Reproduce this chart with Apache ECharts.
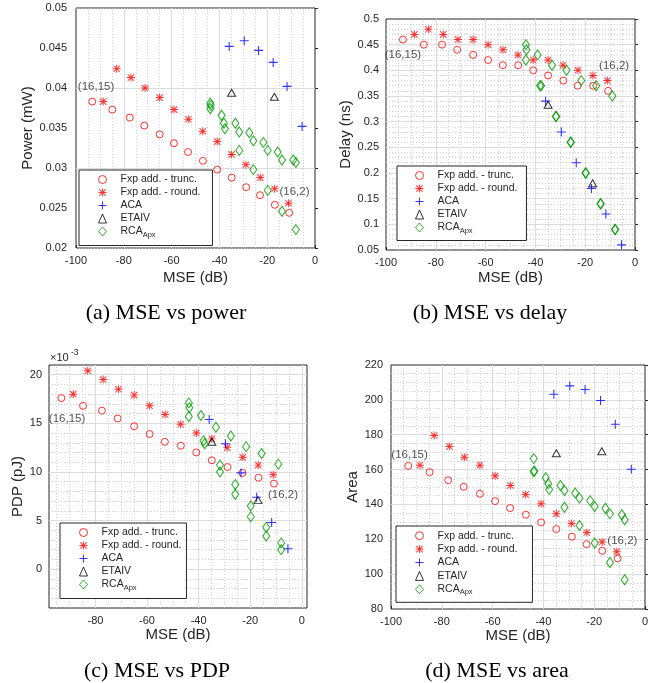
<!DOCTYPE html>
<html><head><meta charset="utf-8">
<script src="https://cdn.jsdelivr.net/npm/echarts@6/dist/echarts.min.js"></script>
<style>html,body{margin:0;padding:0;background:#fff}#c{width:665px;height:683px}</style>
</head><body><div id="c"></div>
<script>
// ---------- data ----------
const seriesNames = ['Fxp add. - trunc.', 'Fxp add. - round.', 'ACA', 'ETAIV', 'RCA_Apx'];

const truncMSE = [-93.2, -84.8, -77.5, -71.4, -65.0, -59.0, -53.1, -46.9, -40.9, -34.9, -28.8, -23.0, -16.8, -10.8];
const roundMSE = [-88.6, -83.0, -77.0, -71.1, -65.0, -59.0, -53.0, -47.0, -40.9, -34.9, -28.9, -22.9, -16.9, -11.1];
const acaMSE = [-35.9, -29.6, -23.6, -17.5, -11.7, -5.4];
const etaivMSE = [-34.9, -17.0];
const rcaMSE = [-43.8, -43.6, -43.8, -39.1, -38.1, -37.7, -33.3, -31.7, -31.7, -27.5, -25.8, -25.8, -21.6, -19.8, -19.8, -15.6, -13.8, -13.8, -9.1, -8.0, -8.0];

const truncPower = [0.0383, 0.0373, 0.0363, 0.0353, 0.0342, 0.0331, 0.0320, 0.0309, 0.0298, 0.0288, 0.0276, 0.0266, 0.0254, 0.0244];
const roundPower = [0.0383, 0.0424, 0.0413, 0.0400, 0.0388, 0.0373, 0.0361, 0.0346, 0.0333, 0.0317, 0.0304, 0.0288, 0.0274, 0.0256];
const acaPower = [0.0452, 0.0459, 0.0447, 0.0432, 0.0402, 0.0352];
const etaivPower = [0.0394, 0.0389];
const rcaPower = [0.0381, 0.0378, 0.0374, 0.0366, 0.0356, 0.0349, 0.0356, 0.0345, 0.0322, 0.0344, 0.0334, 0.0298, 0.0332, 0.0322, 0.0272, 0.0320, 0.0310, 0.0246, 0.0310, 0.0307, 0.0223];

const truncDelay = [0.46, 0.45, 0.45, 0.44, 0.43, 0.42, 0.41, 0.41, 0.40, 0.39, 0.38, 0.37, 0.37, 0.36];
const roundDelay = [0.47, 0.48, 0.47, 0.46, 0.46, 0.45, 0.44, 0.43, 0.42, 0.42, 0.41, 0.40, 0.39, 0.38];
const acaDelay = [0.34, 0.28, 0.22, 0.17, 0.12, 0.06];
const etaivDelay = [0.333, 0.18];
const rcaDelay = [0.45, 0.44, 0.42, 0.43, 0.37, 0.37, 0.41, 0.31, 0.31, 0.40, 0.26, 0.26, 0.38, 0.20, 0.20, 0.37, 0.14, 0.14, 0.35, 0.09, 0.09];

// PDP in units of 1e-3 pJ
const truncPDP = [17.6, 16.8, 16.3, 15.5, 14.7, 13.9, 13.1, 12.7, 12.0, 11.2, 10.5, 9.9, 9.4, 8.8];
const roundPDP = [18.0, 20.4, 19.5, 18.5, 17.9, 16.8, 15.9, 14.9, 14.0, 13.4, 12.5, 11.5, 10.7, 9.7];
const acaPDP = [15.4, 12.9, 9.9, 7.4, 4.8, 2.1];
const etaivPDP = [13.1, 7.1];
const rcaPDP = [17.1, 16.6, 15.7, 15.8, 13.2, 12.9, 14.6, 10.7, 10.0, 13.7, 8.7, 7.7, 12.6, 6.5, 5.4, 11.9, 4.3, 3.4, 10.8, 2.7, 2.0];

const truncArea = [162.1, 158.5, 153.9, 150.1, 146.1, 141.9, 137.9, 134.1, 129.7, 125.9, 121.5, 117.2, 113.4, 109.0];
const roundArea = [162.5, 179.5, 173.2, 167.1, 162.5, 156.4, 150.9, 145.7, 140.4, 134.6, 129.1, 123.9, 118.4, 112.9];
const acaArea = [203.2, 208.0, 205.9, 199.6, 186.0, 160.2];
const etaivArea = [169.4, 170.5];
const rcaArea = [166.3, 159.2, 158.7, 155.3, 151.9, 148.6, 150.9, 148.0, 138.4, 146.6, 143.6, 127.9, 142.2, 138.8, 117.9, 137.8, 134.6, 106.7, 134.1, 131.2, 96.8];

// annotation texts
const noteTexts = ['(16,15)', '(16,2)'];
const captions = ['(a) MSE vs power', '(b) MSE vs delay', '(c) MSE vs PDP', '(d) MSE vs area'];
const yNames = ['Power (mW)', 'Delay (ns)', 'PDP (pJ)', 'Area'];
const xName = 'MSE (dB)';

// ---------- styling / layout ----------
const FONT = '"Liberation Sans", Arial, Helvetica, sans-serif';
const SERIF = '"Liberation Serif", "Times New Roman", serif';
const TXT = '#262626';
const ASTERISK = 'path://M0,4.4H10V5.6H0Z M4.4,0H5.6V10H4.4Z M1.42,0.58L9.42,8.58L8.58,9.42L0.58,1.42Z M8.58,0.58L9.42,1.42L1.42,9.42L0.58,8.58Z';
const PLUS = 'path://M0,4.4H10V5.6H0Z M4.4,0H5.6V10H4.4Z';
const CLEAR = 'rgba(255,255,255,0)';
const COLORS = ['#ff0000', '#ff0000', '#0000ff', '#000000', '#009a00'];

const seriesStyles = [
  {symbol: 'circle', symbolSize: 7, itemStyle: {color: CLEAR, borderColor: COLORS[0], borderWidth: 1}},
  {symbol: ASTERISK, symbolSize: 8, itemStyle: {color: COLORS[1]}},
  {symbol: PLUS, symbolSize: 9, itemStyle: {color: COLORS[2]}},
  {symbol: 'triangle', symbolSize: [8, 7], itemStyle: {color: CLEAR, borderColor: COLORS[3], borderWidth: 1}},
  {symbol: 'diamond', symbolSize: [7, 10], itemStyle: {color: CLEAR, borderColor: COLORS[4], borderWidth: 1.1}}
];
const legendItemStyles = [
  {color: CLEAR, borderColor: COLORS[0], borderWidth: 1},
  {color: COLORS[1], borderWidth: 0},
  {color: COLORS[2], borderWidth: 0},
  {color: CLEAR, borderColor: COLORS[3], borderWidth: 1},
  {color: CLEAR, borderColor: COLORS[4], borderWidth: 1}
];

const mseSets = [truncMSE, roundMSE, acaMSE, etaivMSE, rcaMSE];

const panels = [
  {
    grid: {left: 76, top: 8, width: 239, height: 240},
    x: {min: -100, max: 0, step: 20, label: 20, major: 20, minor: 5},
    y: {min: 0.02, max: 0.05, step: 0.005, label: 0.005, major: 0.005, minor: 0.001},
    yGap: 40, xGap: 22, yLabMargin: 9,
    ys: [truncPower, roundPower, acaPower, etaivPower, rcaPower],
    notes: [[-91.6, 0.0402], [-8.6, 0.0270]],
    legend: {left: 79, top: 170, pad: [3, 12, 7, 19], lh: 13},
    caption: [166, 313]
  },
  {
    grid: {left: 386, top: 19, width: 249, height: 231},
    x: {min: -100, max: 0, step: 20, label: 20, major: 20, minor: 5},
    y: {min: 0.05, max: 0.5, step: 0.05, label: 0.05, major: 0.05, minor: 0.01},
    yGap: 31, xGap: 20, yLabMargin: 7,
    ys: [truncDelay, roundDelay, acaDelay, etaivDelay, rcaDelay],
    notes: [[-93.2, 0.43], [-8.4, 0.408]],
    legend: {left: 397, top: 166, pad: [3, 9, 6, 18], lh: 13},
    caption: [490, 313]
  },
  {
    grid: {left: 49, top: 365, width: 258, height: 243},
    x: {min: -98, max: 2, step: 2, label: 20, major: 20, minor: 5},
    y: {min: -4, max: 21, step: 1, label: 5, major: 5, minor: 1},
    yGap: 24, xGap: 17, yLabMargin: 7,
    ys: [truncPDP, roundPDP, acaPDP, etaivPDP, rcaPDP],
    notes: [[-91.0, 15.5], [-7.3, 7.6]],
    legend: {left: 60, top: 523, pad: [3, 5, 7, 19], lh: 13},
    caption: [157, 671]
  },
  {
    grid: {left: 391, top: 365, width: 254, height: 244},
    x: {min: -100, max: 0, step: 20, label: 20, major: 20, minor: 5},
    y: {min: 80, max: 220, step: 20, label: 20, major: 20, minor: 5},
    yGap: 30, xGap: 16, yLabMargin: 8,
    ys: [truncArea, roundArea, acaArea, etaivArea, rcaArea],
    notes: [[-92.7, 168.4], [-8.9, 119.0]],
    legend: {left: 396, top: 526, pad: [3, 15, 6, 19], lh: 13.4},
    caption: [497, 671]
  }
];

// ---------- helpers ----------
const isMult = (v, s) => Math.abs(v / s - Math.round(v / s)) < 1e-6;
const fmt = v => String(+(+v).toFixed(6));
function multiples(min, max, step, exclude) {
  const out = [];
  for (let k = Math.ceil(min / step - 1e-9); k <= Math.floor(max / step + 1e-9); k++) {
    const v = +(k * step).toFixed(9);
    if (v <= min + 1e-9 || v >= max - 1e-9) continue;
    if (exclude && isMult(v, exclude)) continue;
    out.push(v);
  }
  return out;
}
function mkAxis(def, gi, name, gap, margin) {
  return {
    type: 'value', gridIndex: gi, min: def.min, max: def.max, interval: def.step,
    name: name, nameLocation: 'middle', nameGap: gap,
    nameTextStyle: {fontSize: 15, fontFamily: FONT, color: TXT},
    axisLine: {show: false},
    axisTick: {show: def.step === def.label, inside: true, length: 3, lineStyle: {color: TXT}},
    splitLine: {show: false},
    axisLabel: {margin: margin, fontSize: 11, fontFamily: FONT, color: TXT, showMinLabel: true, showMaxLabel: true,
      formatter: v => isMult(v, def.label) ? fmt(v) : ''}
  };
}

const grids = [], xAxes = [], yAxes = [], series = [], legends = [], graphics = [];

panels.forEach((p, gi) => {
  grids.push(Object.assign({show: true, borderColor: TXT, borderWidth: 1, backgroundColor: '#fff'}, p.grid));
  xAxes.push(mkAxis(p.x, gi, xName, p.xGap, 7));
  yAxes.push(mkAxis(p.y, gi, yNames[gi], p.yGap, p.yLabMargin));

  const majX = multiples(p.x.min, p.x.max, p.x.major);
  const majY = multiples(p.y.min, p.y.max, p.y.major);
  const minX = multiples(p.x.min, p.x.max, p.x.minor, p.x.major);
  const minY = multiples(p.y.min, p.y.max, p.y.minor, p.y.major);

  series.push({
    type: 'scatter', name: 'grid-minor', xAxisIndex: gi, yAxisIndex: gi, data: [], silent: true, z: 1,
    markLine: {silent: true, z: 1, symbol: ['none', 'none'], label: {show: false}, animation: false,
      lineStyle: {color: '#c4c4c4', width: 0.8, type: [1, 2]},
      data: minX.map(v => ({xAxis: v})).concat(minY.map(v => ({yAxis: v})))}
  });
  series.push({
    type: 'scatter', name: 'grid-major', xAxisIndex: gi, yAxisIndex: gi, data: [], silent: true, z: 1,
    markLine: {silent: true, z: 1, symbol: ['none', 'none'], label: {show: false}, animation: false,
      lineStyle: {color: '#dcdcdc', width: 1, type: 'solid'},
      data: majX.map(v => ({xAxis: v})).concat(majY.map(v => ({yAxis: v})))}
  });

  seriesNames.forEach((nm, si) => {
    const xs = mseSets[si], ys = p.ys[si];
    series.push(Object.assign({
      type: 'scatter', name: nm, xAxisIndex: gi, yAxisIndex: gi, z: 6,
      data: xs.map((x, i) => [x, ys[i]])
    }, seriesStyles[si]));
  });

  series.push({
    type: 'scatter', name: 'notes', xAxisIndex: gi, yAxisIndex: gi, z: 7, silent: true,
    symbolSize: 1, itemStyle: {color: CLEAR},
    data: p.notes.map((c, i) => [c[0], c[1], noteTexts[i]]),
    label: {show: true, position: 'inside', formatter: q => q.data[2], fontSize: 11.5, fontFamily: FONT, color: TXT}
  });

  legends.push({
    show: true, left: p.legend.left, top: p.legend.top, orient: 'vertical',
    data: seriesNames.map((n, i) => ({name: n, itemStyle: legendItemStyles[i]})),
    selectedMode: false,
    itemWidth: 8, itemHeight: 9, itemGap: 0,
    padding: p.legend.pad, backgroundColor: '#fff', borderColor: TXT, borderWidth: 1, borderRadius: 0,
    z: 10,
    formatter: n => n === 'RCA_Apx' ? '{m|RCA}{s|Apx}' : n,
    textStyle: {fontSize: 10.5, fontFamily: FONT, color: TXT, lineHeight: p.legend.lh, padding: [0, 0, 0, 9],
      rich: {m: {fontSize: 10.5, fontFamily: FONT, color: TXT, lineHeight: p.legend.lh},
             s: {fontSize: 7.5, fontFamily: FONT, color: TXT, padding: [6, 0, 0, 0]}}}
  });

  graphics.push({
    type: 'text', x: p.caption[0], y: p.caption[1], silent: true,
    style: {text: captions[gi], font: '22px ' + SERIF, fill: '#000', textAlign: 'center', textVerticalAlign: 'middle'}
  });
});

// exponent label for PDP axis
graphics.push({type: 'text', x: 50, y: 358, silent: true,
  style: {text: '\u00d710', font: '11px ' + FONT, fill: TXT, textAlign: 'left', textVerticalAlign: 'middle'}});
graphics.push({type: 'text', x: 71, y: 353, silent: true,
  style: {text: '-3', font: '8.5px ' + FONT, fill: TXT, textAlign: 'left', textVerticalAlign: 'middle'}});

const chart = echarts.init(document.getElementById('c'), null, {renderer: 'canvas'});
chart.setOption({
  animation: false,
  backgroundColor: '#fff',
  grid: grids, xAxis: xAxes, yAxis: yAxes, series: series, legend: legends, graphic: graphics
});
</script>
</body></html>
